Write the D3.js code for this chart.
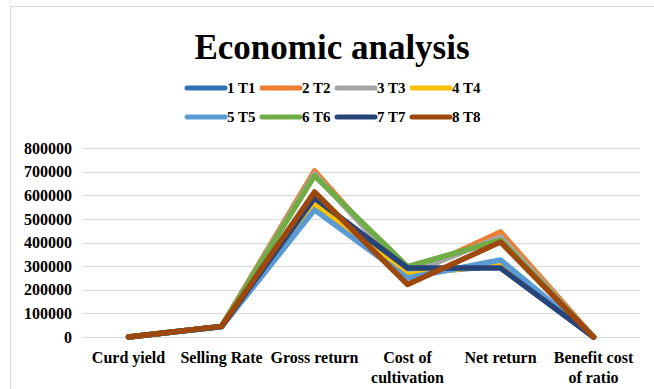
<!DOCTYPE html>
<html><head><meta charset="utf-8">
<script src="https://cdn.jsdelivr.net/npm/d3@7"></script>
<style>body{margin:0;background:#fff}svg{display:block}</style>
</head><body>
<svg id="c" width="654" height="389"></svg>
<script>
const categories = [["Curd yield"],["Selling Rate"],["Gross return"],["Cost of","cultivation"],["Net return"],["Benefit cost","of ratio"]];
const seriesNames = ["1 T1","2 T2","3 T3","4 T4","5 T5","6 T6","7 T7","8 T8"];
const colors = ["#2E75B6","#ED7D31","#A5A5A5","#FFC000","#5B9BD5","#70AD47","#264478","#9E480E"];
const T1 = [180, 44000, 568000, 270000, 300000, 2];
const T2 = [210, 45000, 703000, 262000, 445000, 2];
const T3 = [200, 45000, 690000, 265000, 424000, 2];
const T4 = [175, 44000, 560000, 262000, 309000, 2];
const T5 = [170, 43000, 538000, 250000, 326000, 2];
const T6 = [205, 45000, 682000, 298000, 410000, 2];
const T7 = [185, 44000, 589000, 292000, 292000, 2];
const T8 = [190, 45000, 614000, 222000, 402000, 2];
const seriesValues = [T1,T2,T3,T4,T5,T6,T7,T8];
const yTicks = [0,100000,200000,300000,400000,500000,600000,700000,800000];

const svg = d3.select("#c");
const serif = "'Liberation Serif','Times New Roman',serif";

// outer frame
svg.append("rect").attr("x",10.5).attr("y",6.5).attr("width",700).attr("height",500)
  .attr("fill","none").attr("stroke","#d9d9d9");

const x = d3.scaleBand().domain(d3.range(categories.length)).range([82,640]);
const y = d3.scaleLinear().domain([0,800000]).range([337,148]);

// gridlines
svg.append("g").selectAll("line").data(yTicks).join("line")
  .attr("x1",82).attr("x2",640).attr("y1",d=>Math.round(y(d))+0.5).attr("y2",d=>Math.round(y(d))+0.5)
  .attr("stroke","#d9d9d9").attr("stroke-width",1);

// y axis
const yAxis = svg.append("g").attr("transform","translate(82,0)")
  .call(d3.axisLeft(y).tickValues(yTicks).tickSize(0).tickPadding(10).tickFormat(d3.format("d")));
yAxis.select(".domain").remove();
yAxis.selectAll("text").attr("font-family",serif).attr("font-weight","bold").attr("font-size",16).attr("fill","#000");

// x axis labels
const xAxis = svg.append("g").attr("transform","translate(0,337)")
  .call(d3.axisBottom(x).tickSize(0).tickFormat(()=>""));
xAxis.select(".domain").remove();
xAxis.selectAll(".tick").each(function(d){
  const t = d3.select(this).select("text").text(null)
    .attr("font-family",serif).attr("font-weight","bold").attr("font-size",16).attr("fill","#000")
    .attr("y",0).attr("dy",0);
  categories[d].forEach((s,i)=>t.append("tspan").attr("x",0).attr("y",26+i*20).text(s));
});

// lines
const line = d3.line().x((d,i)=>x(i)+x.bandwidth()/2).y(d=>y(d));
svg.append("g").selectAll("path").data(seriesValues).join("path")
  .attr("d",line).attr("fill","none").attr("stroke",(d,i)=>colors[i])
  .attr("stroke-width",5.5).attr("stroke-linejoin","round").attr("stroke-linecap","round");

// title
svg.append("text").attr("x",332).attr("y",59).attr("text-anchor","middle")
  .attr("font-family",serif).attr("font-weight","bold").attr("font-size",35).attr("fill","#000")
  .text("Economic analysis");

// legend
const lg = svg.append("g");
seriesNames.forEach((n,i)=>{
  const row = Math.floor(i/4), col = i%4;
  const lx = 187 + col*75, ly = 88 + row*29;
  lg.append("line").attr("x1",lx).attr("x2",lx+38).attr("y1",ly).attr("y2",ly)
    .attr("stroke",colors[i]).attr("stroke-width",5).attr("stroke-linecap","round");
  lg.append("text").attr("x",lx+40).attr("y",ly+5).attr("font-family",serif).attr("font-weight","bold")
    .attr("font-size",15).attr("fill","#000").text(n);
});
</script>
</body></html>
